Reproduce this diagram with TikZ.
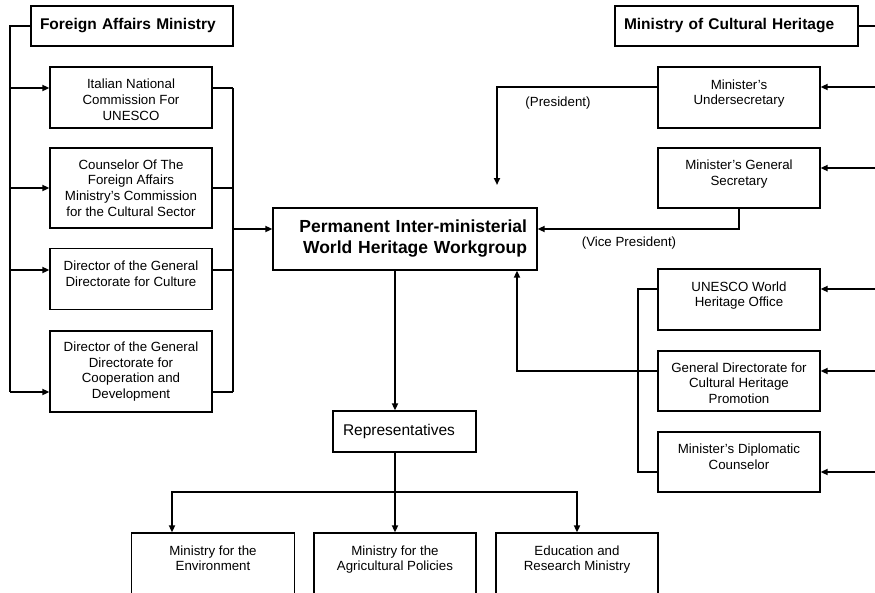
\documentclass[tikz,border=0pt]{standalone}
\usepackage{fontspec}
\setmainfont{Liberation Sans}
\usetikzlibrary{arrows.meta}

\newcommand{\officefont}{\fontsize{13.3}{15.7}\selectfont}
\newcommand{\headfont}{\fontsize{15.5}{18}\selectfont\bfseries}
\newcommand{\wgfont}{\fontsize{17.5}{21}\selectfont\bfseries}
% an empty third line keeps two-line texts high in their box
\newcommand{\tail}{\\[-5pt]\mbox{}}
% a taller first line nudges three-line texts down a little
\newcommand{\lead}{\rule{0pt}{14pt}}

\begin{document}
\begin{tikzpicture}[
  x=1pt, y=-1pt,
  office/.style    = {draw, line width=1.3pt, align=center, font=\officefont,
                      inner sep=2pt, minimum width=162pt, minimum height=61pt},
  ministry/.style  = {draw, line width=1.3pt, align=left, font=\headfont,
                      inner xsep=9pt, minimum height=40pt},
  workgroup/.style = {draw, line width=1.3pt, align=right, font=\wgfont,
                      text width=244pt, inner xsep=10pt, minimum height=62pt},
  delegates/.style = {draw, line width=1.3pt, align=left,
                      font=\fontsize{15.5}{18}\selectfont,
                      text width=123pt, inner xsep=10pt, minimum height=41pt},
  link/.style      = {line width=1.8pt},
  arr/.style       = {link, -{Triangle[length=7pt,width=6pt]}},
  role/.style      = {font=\officefont, inner sep=1pt},
]

  \path[use as bounding box, fill=white] (0,0) rectangle (875,592);

  \node[ministry, text width=184pt] (fam) at (132,26) {Foreign Affairs Ministry};
  \node[ministry, text width=225pt] (cmh) at (736.5,26) {Ministry of Cultural Heritage};

  \node[office] (ncu) at (131,97.5) {\lead Italian National\\Commission For\\UNESCO};
  \node[office, minimum height=80pt] (cfa) at (131,188) {Counselor Of The\\Foreign Affairs\\Ministry’s Commission\\for the Cultural Sector};
  \node[office] (dgc) at (131,279) {Director of the General\\Directorate for Culture\tail};
  \node[office, minimum height=81pt] (dgcd) at (131,371.5) {Director of the General\\Directorate for\\Cooperation and\\Development};

  \node[workgroup] (perm) at (405,239) {Permanent Inter-ministerial\\World Heritage Workgroup};
  \node[delegates] (reps) at (404.5,431.5) {Representatives};

  \node[office] (usec) at (739,97.5) {Minister’s\\Undersecretary\tail};
  \node[office, minimum height=60pt] (gsec) at (739,178) {Minister’s General\\Secretary\tail};
  \node[office] (whoff) at (739,299.5) {UNESCO World\\Heritage Office\tail};
  \node[office, minimum height=60pt] (dgpro) at (739,381) {\lead General Directorate for\\Cultural Heritage\\Promotion};
  \node[office, minimum height=60pt] (diplo) at (739,462) {Minister’s Diplomatic\\Counselor\tail};

  \node[office, minimum width=163pt] (env) at (213,563.5) {Ministry for the\\Environment\tail};
  \node[office] (agri) at (395,563.5) {Ministry for the\\Agricultural Policies\tail};
  \node[office] (edu) at (577,563.5) {Education and\\Research Ministry\tail};

  \node[role] (pres) at (558,103) {(President)};
  \node[role] (vice) at (629,243) {(Vice President)};

  % trunks and junctions; the right trunk runs just off the page
  \coordinate (ltop) at (10,26);
  \coordinate (l1) at (10,88);
  \coordinate (l2) at (10,188);
  \coordinate (l3) at (10,270);
  \coordinate (l4) at (10,392);
  \coordinate (col) at (233,229);
  \coordinate (rtop) at (878,26);
  \coordinate (r1) at (878,87);
  \coordinate (r2) at (878,168);
  \coordinate (r3) at (878,289);
  \coordinate (r4) at (878,371);
  \coordinate (r5) at (878,472);
  \coordinate (bx) at (638,289);
  \coordinate (prestip) at (497,185);
  \coordinate (upx) at (517,371);
  \coordinate (bus) at (395,492);
  \coordinate (busl) at (172,492);

  \draw[link] (fam.west) -- (ltop) -- (l4);
  \foreach \r/\o in {l1/ncu, l2/cfa, l3/dgc, l4/dgcd} {
    \draw[arr] (\r) -- (\r -| \o.west);
    \draw[link] (\r -| \o.east) -- (\r -| col);
  }
  \draw[link] (l1 -| col) -- (l4 -| col);
  \draw[arr] (col) -- (col -| perm.west);

  \draw[link] (cmh.east) -- (rtop) -- (r5);
  \foreach \r/\o in {r1/usec, r2/gsec, r3/whoff, r4/dgpro, r5/diplo}
    \draw[arr] (\r) -- (\r -| \o.east);

  \draw[arr] (r1 -| usec.west) -| (prestip);
  \draw[arr] (gsec.south) |- (col -| perm.east);
  \draw[link] (r3 -| whoff.west) -- (bx) -- (r5 -| bx) -- (r5 -| diplo.west);
  \draw[arr] (r4 -| dgpro.west) -| (upx |- perm.south);

  \draw[arr] (bus |- perm.south) -- (bus |- reps.north);
  \draw[arr] (bus |- reps.south) -- (agri.north);
  \draw[arr] (bus) -| (busl |- env.north);
  \draw[arr] (bus) -| (edu.north);
\end{tikzpicture}
\end{document}
